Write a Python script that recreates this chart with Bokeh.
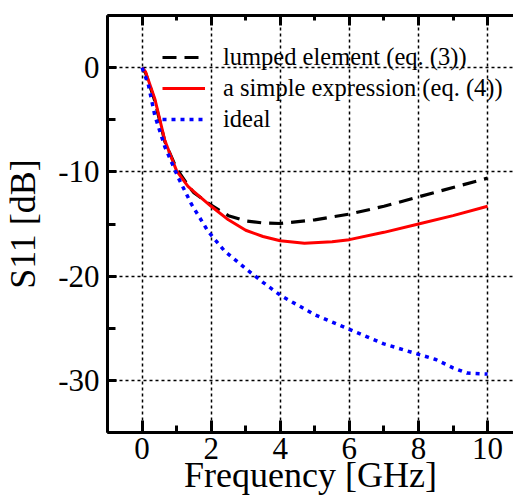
from bokeh.plotting import figure
from bokeh.models import (Range1d, LinearAxis, SingleIntervalTicker, Legend, LegendItem,
                          PrintfTickFormatter)
from bokeh.embed import file_html
from bokeh.resources import INLINE

# ---- data ----
lumped_x = [0, 0.1, 0.37, 0.66, 1.0, 1.33, 1.5, 2.0, 2.5, 3.0, 3.5, 4.0, 5.0, 6.0, 7.0, 8.0, 9.0, 10.0]
lumped_y = [0, -0.5, -3.2, -7.1, -9.7, -11.3, -12.0, -13.2, -14.2, -14.7, -14.9, -14.95, -14.6, -14.05, -13.3, -12.4, -11.5, -10.6]

simple_x = [0, 0.1, 0.37, 0.66, 1.0, 1.33, 1.5, 2.0, 2.5, 3.0, 3.5, 4.0, 4.7, 5.5, 6.0, 7.0, 8.0, 9.0, 10.0]
simple_y = [0, -0.4, -3.0, -7.0, -9.9, -11.4, -11.9, -13.3, -14.6, -15.6, -16.2, -16.6, -16.85, -16.7, -16.5, -15.8, -15.0, -14.2, -13.3]

ideal_x = [0, 0.18, 0.37, 0.66, 1.04, 1.43, 1.91, 2.39, 2.97, 3.5, 4.03, 5.0, 6.0, 7.0, 8.0, 8.5, 9.0, 9.4, 10.0]
ideal_y = [0, -1.6, -4.6, -7.6, -10.5, -13.1, -15.7, -17.6, -19.2, -20.6, -21.9, -23.7, -25.1, -26.5, -27.5, -28.0, -28.8, -29.3, -29.4]

labels = ["lumped element (eq. (3))", "a simple expression (eq. (4))", "ideal"]
x_title = "Frequency [GHz]"
y_title = "S11 [dB]"

FONT = "Liberation Serif"

p = figure(width=513, height=498, output_backend="svg", toolbar_location=None,
           x_range=Range1d(-1, 10.75), y_range=Range1d(-35, 5),
           min_border=0,
           min_border_left=105, min_border_right=0, min_border_top=15, min_border_bottom=66,
           x_axis_location="below", y_axis_location="left")
p.title.visible = False
p.outline_line_color = None
p.background_fill_color = "white"
p.border_fill_color = "white"

xt = SingleIntervalTicker(interval=2, num_minor_ticks=2)
yt = SingleIntervalTicker(interval=10, num_minor_ticks=2)
p.xaxis.ticker = xt
p.yaxis.ticker = yt
p.xaxis.formatter = PrintfTickFormatter(format="%d")
p.yaxis.formatter = PrintfTickFormatter(format="%d")

for ax in (p.xaxis[0], p.yaxis[0]):
    ax.axis_line_width = 3
    ax.axis_line_color = "black"
    ax.major_tick_line_width = 3
    ax.minor_tick_line_width = 3
    ax.major_tick_out = 0
    ax.minor_tick_out = 0
    ax.major_label_text_font = FONT
    ax.major_label_text_font_size = "31px"
    ax.major_label_text_color = "black"
    ax.axis_label_text_font = FONT
    ax.axis_label_text_font_size = "36px"
    ax.axis_label_text_font_style = "normal"
    ax.axis_label_text_color = "black"

p.xaxis.major_tick_in = 12
p.xaxis.minor_tick_in = 7
p.yaxis.major_tick_in = 9
p.yaxis.minor_tick_in = 8
p.xaxis.major_label_standoff = 5
p.xaxis.axis_label_standoff = -7
p.yaxis.major_label_standoff = 8
p.yaxis.axis_label_standoff = 12
p.xaxis.axis_label = x_title
p.yaxis.axis_label = y_title

top = LinearAxis(ticker=SingleIntervalTicker(interval=2, num_minor_ticks=2))
top.axis_line_width = 3
top.major_tick_line_width = 3
top.minor_tick_line_width = 3
top.major_tick_out = 0
top.minor_tick_out = 0
top.major_tick_in = 10
top.minor_tick_in = 5
top.major_label_text_font_size = "1px"
top.major_label_text_color = None
top.major_label_standoff = 0
p.add_layout(top, "above")

p.xgrid.ticker = xt
p.ygrid.ticker = yt
for g in (p.xgrid[0], p.ygrid[0]):
    g.grid_line_color = "black"
    g.grid_line_dash = "3 3"
    g.grid_line_width = 1.5

r1 = p.line(lumped_x, lumped_y, line_color="black", line_width=3.2, line_dash="14 8")
r2 = p.line(simple_x, simple_y, line_color="red", line_width=3)
r3 = p.line(ideal_x, ideal_y, line_color="blue", line_width=3.5, line_dash="4 5")

legend = Legend(items=[LegendItem(label=labels[0], renderers=[r1]),
                       LegendItem(label=labels[1], renderers=[r2]),
                       LegendItem(label=labels[2], renderers=[r3])],
                location=(55, 298))
legend.background_fill_alpha = 0
legend.border_line_color = None
legend.padding = 0
legend.margin = 0
legend.spacing = 1
legend.glyph_width = 43
legend.glyph_height = 30
legend.label_height = 30
legend.label_standoff = 18
legend.label_text_font = FONT
legend.label_text_font_size = "24.5px"
legend.label_text_color = "black"
p.add_layout(legend, "center")

open("out.html", "w").write(file_html(p, INLINE))
